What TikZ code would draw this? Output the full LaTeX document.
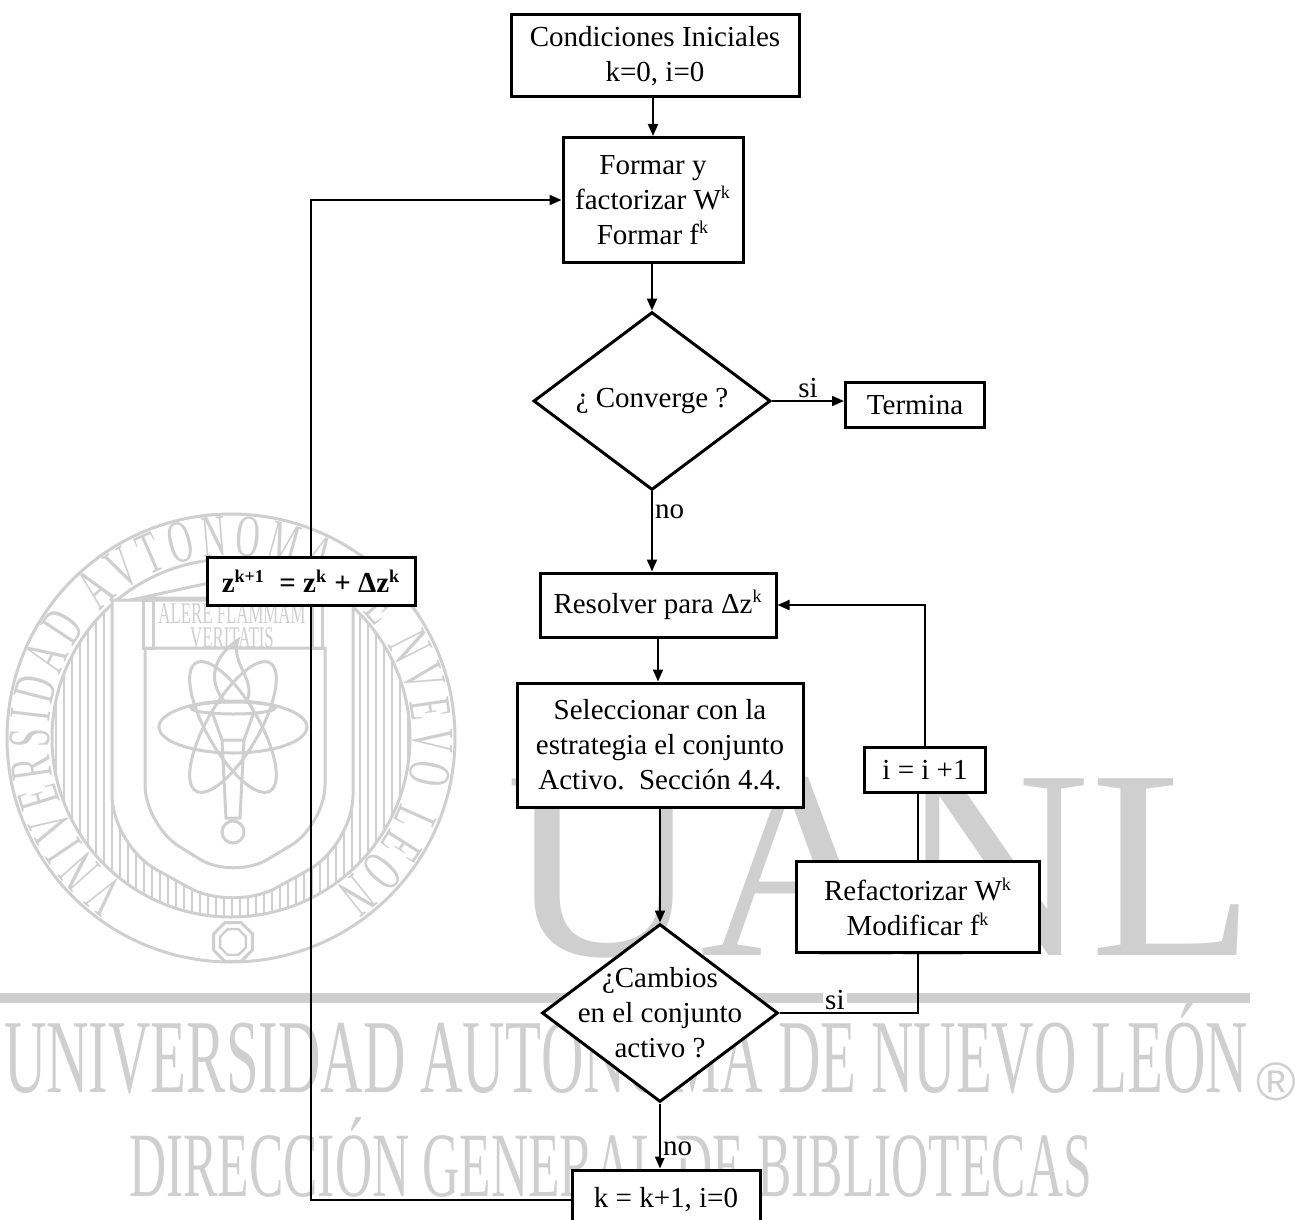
\documentclass[tikz,border=0pt]{standalone}
\usepackage{fontspec}
\setmainfont{Liberation Serif}
\newfontfamily\marcafont[FakeStretch=0.56]{Liberation Serif}
\newfontfamily\regfont{Liberation Sans}
\usetikzlibrary{shapes.geometric,arrows.meta,decorations.text}
\definecolor{marca}{gray}{0.81}
\newcommand\ksup[1]{\textsuperscript{\fontsize{9}{9}\selectfont #1}}

\begin{document}
\begin{tikzpicture}[x=0.5pt,y=-0.5pt,line width=1pt,
  >={Triangle[length=6pt,width=5pt]}]

\useasboundingbox (0,0) rectangle (1295,1220);
\clip (0,0) rectangle (1295,1220);

% marca de agua
\begin{scope}[draw=marca, line width=1.5pt]
  \begin{scope}
    \clip (231,738) circle (179);
    \foreach \x in {48,56,...,416}
      \draw[line width=0.7pt] (\x,600) -- (\x,930);
  \end{scope}
  \draw (231,738) circle (224);
  \draw (231,738) circle (179);
  \filldraw[fill=white] (112,600) [rounded corners=25pt] -- (112,845) -- (233,912) -- (353,845) [sharp corners] -- (353,600) -- cycle;
  \draw (145,648) [rounded corners=20pt] -- (145,825) -- (233,880) -- (325,825) [sharp corners] -- (325,648) -- cycle;
  % templo
  \draw (140,598) -- (232,578) -- (322,598) -- cycle;
  \draw (143,600) rectangle (153,648);
  \draw (312,600) rectangle (322,648);
  % atomo y antorcha
  \foreach \a in {0,60,120}
    \draw[rotate around={\a:(233,727)}] (233,727) ellipse (74 and 26);
  \draw (233,708) ellipse (42 and 6);
  \draw (212,712) -- (222,740) -- (244,740) -- (254,712);
  \draw (222,740) -- (226,818) -- (240,818) -- (244,740);
  \draw (233,832) circle (11);
  \draw (226,703) .. controls (205,680) and (215,655) .. (238,640) .. controls (230,665) and (258,680) .. (246,703);
  \path[decorate, decoration={text along path, text align={fit to path},
    text={|\marcafont\fontsize{30}{30}\selectfont\color{marca}|VNIVERSIDAD AVTONOMA DE NVEVO LEON}}]
    (231,738) ++(-235:182) arc[start angle=-235, end angle=55, radius=182];
\end{scope}
\node[draw=marca, line width=1.5pt, fill=white, regular polygon, regular polygon sides=8, minimum size=21pt] (oct) at (233,942) {};
\node[draw=marca, line width=1.2pt, regular polygon, regular polygon sides=8, minimum size=14pt] (octin) at (233,942) {};
\node[text=marca, font=\marcafont\fontsize{15}{15}\selectfont] (lema) at (232,614) {ALERE FLAMMAM};
\node[text=marca, font=\marcafont\fontsize{15}{15}\selectfont] (lemb) at (232,638) {VERITATIS};
\node[text=marca, anchor=base west, inner sep=0pt, font=\fontsize{135}{135}\selectfont] (uanl) at (505,955) {UANL};
\fill[marca] (0,993) rectangle (1250,1003);
\node[text=marca, anchor=base west, inner sep=0pt, font=\marcafont\fontsize{52.5}{52}\selectfont] (univ) at (3,1092) {UNIVERSIDAD AUTÓNOMA DE NUEVO LEÓN};
\node[text=marca, anchor=base west, inner sep=0pt, font=\marcafont\fontsize{46}{46}\selectfont] (dgb) at (128,1196) {DIRECCIÓN GENERAL DE BIBLIOTECAS};
\node[text=marca, font=\regfont\fontsize{27}{27}\selectfont] (reg) at (1276,1082) {®};

% diagrama
\begin{scope}[every node/.style={draw, fill=white, align=center, inner sep=0pt, line width=1.5pt, font=\fontsize{14.5}{17.5}\selectfont}]
  \node (ini) at (655,56) [minimum width=144pt, minimum height=41pt] {Condiciones Iniciales\\k=0, i=0};
  \node (form) at (653,200) [minimum width=90pt, minimum height=62.5pt] {Formar y\\factorizar W\ksup{k}\\Formar f\ksup{k}};
  \node (conv) at (652,401) [diamond, minimum width=118.5pt, minimum height=87.5pt] {¿ Converge ?};
  \node (term) at (915,405) [minimum width=69.5pt, minimum height=22.5pt] {Termina};
  \node (resol) at (658,605) [minimum width=118pt, minimum height=32pt] {Resolver para Δz\ksup{k}};
  \node (selec) at (660,745) [minimum width=143pt, minimum height=62pt] {Seleccionar con la\\estrategia el conjunto\\Activo.\ \ Sección 4.4.};
  \node (incr) at (925,770) [minimum width=60.5pt, minimum height=22.5pt] {i = i +1};
  \node (refac) at (918,907) [minimum width=121.5pt, minimum height=45.5pt] {Refactorizar W\ksup{k}\\Modificar f\ksup{k}};
  \node (camb) at (660,1013) [diamond, inner xsep=-16pt, inner ysep=-14pt, minimum width=118pt, minimum height=89pt] {¿Cambios\\en el conjunto\\activo ?};
  \node (fin) at (666,1200) [minimum width=94pt, minimum height=30pt] {k = k+1, i=0};
  \node (zact) at (311,581) [minimum width=104pt, minimum height=24pt, font=\bfseries\fontsize{14.5}{17.5}\selectfont] {z\ksup{k+1}\ \ = z\ksup{k} + Δz\ksup{k}};
\end{scope}

\begin{scope}[every node/.style={fill=white, inner sep=1pt, font=\fontsize{14.5}{17.5}\selectfont}]
  \draw[->] (form.south |- ini.south) -- (form.north);
  \draw[->] (conv.north |- form.south) -- (conv.north);
  \draw[->] (conv.east) -- node[above] {si} (conv.east -| term.west);
  \draw[->] (conv.south) -- node[right, pos=.25] {no} (conv.south |- resol.north);
  \draw[->] (resol.south) -- (resol.south |- selec.north);
  \draw[->] (camb.north |- selec.south) -- (camb.north);
  \draw (camb.east) -| node[above, pos=.2] {si} (refac.south);
  \draw (refac.north) -- (refac.north |- incr.south);
  \draw[->] (incr.north) |- (resol.east);
  \draw[->] (camb.south) -- node[right, pos=.7] {no} (camb.south |- fin.north);
  \draw (fin.west) -| (zact.south);
  \draw[->] (zact.north) |- (form.west);
\end{scope}

\end{tikzpicture}
\end{document}
